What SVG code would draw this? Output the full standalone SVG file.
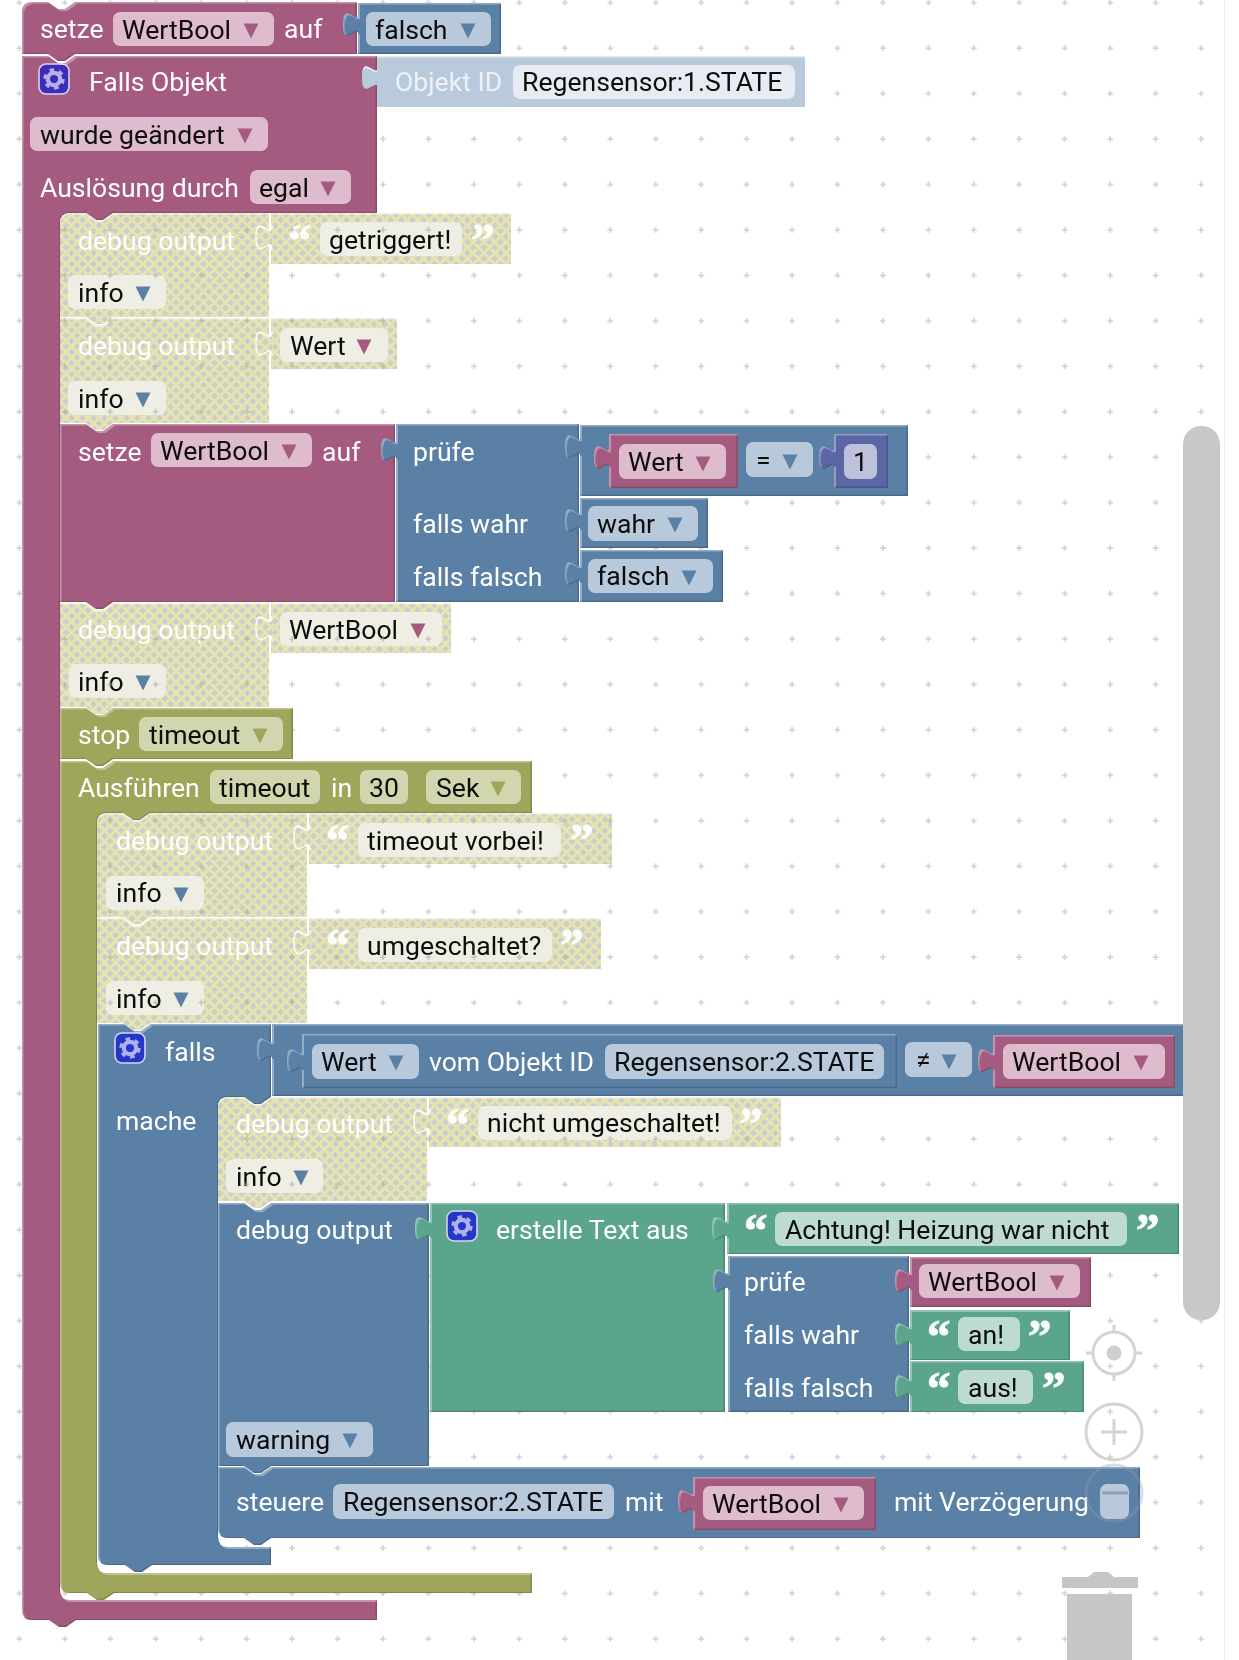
<svg xmlns="http://www.w3.org/2000/svg" width="1239" height="1660" viewBox="0 0 1239 1660">
<style>
text{font-family:Roboto,"Liberation Sans",sans-serif;font-size:26.6px}
.w{fill:#fff}.k{fill:#0d0d0d}.w2{fill:#eef2f6}
text.q{font-family:"Liberation Serif",serif;font-size:47px;font-weight:bold;fill:#fbfdfb;stroke:#fbfdfb;stroke-width:1}
.bv{filter:url(#bevel)}.bd{filter:url(#bevelD)}
.P{fill:#a55b80}.B{fill:#5b80a5}.G{fill:#5ba58c}.O{fill:#9fa55b}.L{fill:#5b67a5}.S{fill:#b8cadc}.D{fill:url(#dis)}
.fP{fill:#dfbccd}.fB{fill:#b8c9dc}.fG{fill:#bddbd1}.fO{fill:#d2d6ae}.fD{fill:#eeeee4}.fL{fill:#bdc1dc}.fS{fill:#e6ecf2}
.tD{fill:url(#dis);stroke:#fff;stroke-opacity:.85;stroke-width:1.4}
</style>
<defs>
<pattern id="grid" patternUnits="userSpaceOnUse" x="15.4" y="-1.35" width="45.45" height="45.45"><path d="M1,4H7M4,1V7" stroke="#c9c9c9" stroke-width="1.3" fill="none"/></pattern>
<pattern id="grid2" patternUnits="userSpaceOnUse" x="15.4" y="-1.35" width="45.45" height="45.45"><path d="M1,4H7M4,1V7" stroke="#a9a9a0" stroke-width="1.3" fill="none"/></pattern>
<pattern id="dis" patternUnits="userSpaceOnUse" width="11" height="11"><rect width="11" height="11" fill="#cdcdcd"/><path d="M0,0L11,11M11,0L0,11" stroke="#e6e5b0" stroke-width="3"/></pattern>
<filter id="bevel" color-interpolation-filters="sRGB" x="-3%" y="-3%" width="106%" height="106%">
<feOffset in="SourceAlpha" dx="1.5" dy="1.5" result="a"/>
<feComposite in="SourceAlpha" in2="a" operator="out" result="tl"/>
<feFlood flood-color="#fff" flood-opacity=".35"/><feComposite in2="tl" operator="in" result="light"/>
<feOffset in="SourceAlpha" dx="-1.5" dy="-1.5" result="b"/>
<feComposite in="SourceAlpha" in2="b" operator="out" result="br"/>
<feFlood flood-color="#000" flood-opacity=".17"/><feComposite in2="br" operator="in" result="dark"/>
<feMerge><feMergeNode in="SourceGraphic"/><feMergeNode in="light"/><feMergeNode in="dark"/></feMerge>
</filter>
<filter id="bevelD" color-interpolation-filters="sRGB" x="-3%" y="-3%" width="106%" height="106%">
<feOffset in="SourceAlpha" dx="0" dy="1.5" result="a"/>
<feComposite in="SourceAlpha" in2="a" operator="out" result="tl"/>
<feFlood flood-color="#fff" flood-opacity=".6"/><feComposite in2="tl" operator="in" result="light"/>
<feMerge><feMergeNode in="SourceGraphic"/><feMergeNode in="light"/></feMerge>
</filter>
<path id="tab" d="M1,0c0,17 -16,-14 -16,12.5s16,-4 16,12.5"/>
<path id="ar" d="M-7.5,-7.5H7.5L0,7.5Z"/>
<g id="gear"><rect x="-15" y="-15" width="30" height="30" rx="7" stroke="#d9d3f2" stroke-width="1.6"/><circle r="6.2" fill="none" stroke="#b4b0ee" stroke-width="4.2"/><circle r="9.2" fill="none" stroke="#b4b0ee" stroke-width="3" stroke-dasharray="4.6 5.03"/></g>
<clipPath id="disClip">
<rect x="60" y="215" width="209" height="208"/><rect x="271" y="213" width="240" height="51"/><rect x="271" y="318" width="126" height="51"/>
<rect x="60" y="603" width="209" height="104"/><rect x="271" y="603" width="180" height="50"/>
<rect x="97" y="815" width="210" height="208"/><rect x="309" y="813" width="303" height="51"/><rect x="309" y="918" width="292" height="51"/>
<rect x="218" y="1099" width="209" height="102"/><rect x="429" y="1097" width="352" height="50"/>
</clipPath>
</defs>
<rect width="1239" height="1660" fill="#fff"/>
<rect width="1239" height="1660" fill="url(#grid)"/>
<path d="M1224.5,0V1660" stroke="#ececec" stroke-width="1"/>

<g id="trash" fill="#c6c6c6"><path d="M1062,1577h26l6,-5h14l6,5h24v11h-76Z"/><rect x="1067" y="1594" width="65" height="66"/></g>

<g id="setze-top" class="bv"><path class="P" d="M22,12Q22,2 32,2H48l10,7h7l10,-7H357V54H75l-10,7h-7l-10,-7H22Z"/>
<text class="w" x="40" y="38">setze</text><rect class="fP" x="113" y="12" width="161" height="34" rx="7"/><text class="k" x="122" y="38.500">WertBool</text><use class="P" href="#ar" x="251" y="31"/><text class="w" x="284" y="38">auf</text></g>
<g id="falsch-top" class="bv"><use class="B" href="#tab" x="358" y="12"/><rect class="B" x="358" y="3" width="143" height="51"/>
<rect class="fB" x="366" y="12" width="125" height="34" rx="7"/><text class="k" x="375" y="38.500">falsch</text><use class="B" href="#ar" x="468" y="31"/></g>

<g id="falls-objekt" class="bv"><path class="P" d="M22,56h26l10,7h7l10,-7H377V213H113l-10,7h-7l-10,-7H70Q60,213 60,223V1590Q60,1600 70,1600H377V1620H76l-10,7h-7l-10,-7H32Q22,1620 22,1610Z"/>
<use href="#gear" x="54" y="79" fill="#3e2cb8"/><text class="w" x="89" y="91">Falls Objekt</text>
<rect class="fP" x="30" y="117" width="238" height="34" rx="7"/><text class="k" x="40" y="144">wurde geändert</text><use class="P" href="#ar" x="245" y="136"/>
<text class="w" x="40" y="197">Auslösung durch</text><rect class="fP" x="250" y="170" width="101" height="34" rx="7"/><text class="k" x="259" y="197">egal</text><use class="P" href="#ar" x="328" y="189"/></g>
<g id="objekt-id" class="bd"><use class="S" href="#tab" x="377" y="65"/><rect class="S" x="377" y="56" width="428" height="51"/><text class="w2" x="395" y="91">Objekt ID</text>
<rect class="fS" x="513" y="65" width="282" height="34" rx="7"/><text class="k" x="522" y="91">Regensensor:1.STATE</text></g>

<g id="debug1" class="bd"><path class="D" d="M60,223Q60,213 70,213H86l10,7h7l10,-7H269V317H113l-10,7h-7l-10,-7H60Z"/>
<text class="w" x="78" y="250">debug output</text><rect class="fD" x="68" y="275" width="98" height="34" rx="7"/><text class="k" x="78" y="302">info</text><use class="B" href="#ar" x="143" y="294"/></g>
<g id="debug1-text" class="bd"><rect class="D" x="271" y="213" width="240" height="51"/><use class="tD" href="#tab" x="271" y="225"/><text class="q" x="288" y="256">“</text>
<rect class="fD" x="320" y="222" width="142" height="34" rx="7"/><text class="k" x="329" y="249">getriggert!</text><text class="q" x="471" y="256">”</text></g>

<g id="debug2" class="bd"><path class="D" d="M60,318h26l10,7h7l10,-7H269V423H113l-10,7h-7l-10,-7H60Z"/>
<text class="w" x="78" y="355">debug output</text><rect class="fD" x="68" y="381" width="98" height="34" rx="7"/><text class="k" x="78" y="408">info</text><use class="B" href="#ar" x="143" y="400"/></g>
<g id="debug2-var" class="bd"><rect class="D" x="271" y="318" width="126" height="51"/><use class="tD" href="#tab" x="271" y="331"/><rect class="fD" x="280" y="328" width="108" height="34" rx="7"/><text class="k" x="290" y="355">Wert</text><use class="P" href="#ar" x="364" y="347"/></g>

<g id="setze2" class="bv"><path class="P" d="M60,424h26l10,7h7l10,-7H395V602H113l-10,7h-7l-10,-7H60Z"/>
<text class="w" x="78" y="461">setze</text><rect class="fP" x="151" y="433" width="161" height="34" rx="7"/><text class="k" x="160" y="460">WertBool</text><use class="P" href="#ar" x="289" y="452"/><text class="w" x="322" y="461">auf</text></g>
<g id="pruefe1" class="bv"><use class="B" href="#tab" x="396" y="437"/><rect class="B" x="396" y="424" width="183" height="178"/>
<text class="w" x="413" y="461">prüfe</text><text class="w" x="413" y="533">falls wahr</text><text class="w" x="413" y="586">falls falsch</text></g>
<g id="compare" class="bv"><use class="B" href="#tab" x="580" y="434"/><rect class="B" x="580" y="425" width="328" height="71"/>
<rect class="fB" x="746" y="442" width="67" height="35" rx="7"/><text class="k" x="756" y="469">=</text><use class="B" href="#ar" x="790" y="462"/></g>
<g id="wert1" class="bv"><use class="P" href="#tab" x="609" y="445"/><rect class="P" x="609" y="434" width="129" height="54"/><rect class="fP" x="619" y="444" width="107" height="35" rx="7"/><text class="k" x="628" y="471">Wert</text><use class="P" href="#ar" x="703" y="464"/></g>
<g id="num1" class="bv"><use class="L" href="#tab" x="834" y="445"/><rect class="L" x="834" y="434" width="54" height="54"/><rect class="fL" x="844" y="444" width="33" height="35" rx="7"/><text class="k" x="853" y="471">1</text></g>
<g id="wahr1" class="bv"><use class="B" href="#tab" x="580" y="508"/><rect class="B" x="580" y="498" width="128" height="50"/><rect class="fB" x="588" y="506" width="110" height="35" rx="7"/><text class="k" x="597" y="533">wahr</text><use class="B" href="#ar" x="675" y="525"/></g>
<g id="falsch1" class="bv"><use class="B" href="#tab" x="580" y="561"/><rect class="B" x="580" y="550" width="143" height="52"/><rect class="fB" x="588" y="559" width="125" height="34" rx="7"/><text class="k" x="597" y="585">falsch</text><use class="B" href="#ar" x="689" y="578"/></g>

<g id="debug3" class="bd"><path class="D" d="M60,603h26l10,7h7l10,-7H269V707H113l-10,7h-7l-10,-7H60Z"/>
<text class="w" x="78" y="639">debug output</text><rect class="fD" x="69" y="664" width="97" height="34" rx="7"/><text class="k" x="78" y="691">info</text><use class="B" href="#ar" x="143" y="683"/></g>
<g id="debug3-var" class="bd"><rect class="D" x="271" y="603" width="180" height="50"/><use class="tD" href="#tab" x="271" y="616"/><rect class="fD" x="280" y="612" width="162" height="34" rx="7"/><text class="k" x="289" y="639">WertBool</text><use class="P" href="#ar" x="418" y="631"/></g>

<g id="stop" class="bv"><path class="O" d="M60,708h26l10,7h7l10,-7H293V759H113l-10,7h-7l-10,-7H60Z"/>
<text class="w" x="78" y="744">stop</text><rect class="fO" x="139" y="717" width="144" height="34" rx="7"/><text class="k" x="149" y="744">timeout</text><use class="O" href="#ar" x="260" y="736"/></g>

<g id="ausfuehren" class="bv"><path class="O" d="M60,761h26l10,7h7l10,-7H532V813H150l-10,7h-7l-10,-7H107Q97,813 97,823V1563Q97,1573 107,1573H532V1593H114l-10,7h-7l-10,-7H70Q60,1593 60,1583Z"/>
<text class="w" x="78" y="797">Ausführen</text><rect class="fO" x="210" y="770" width="110" height="34" rx="7"/><text class="k" x="219" y="797">timeout</text><text class="w" x="331" y="797">in</text>
<rect class="fO" x="360" y="770" width="48" height="34" rx="7"/><text class="k" x="369" y="797">30</text><rect class="fO" x="426" y="770" width="95" height="34" rx="7"/><text class="k" x="436" y="797">Sek</text><use class="O" href="#ar" x="498" y="789"/></g>

<g id="debug4" class="bd"><path class="D" d="M97,823Q97,813 107,813H123l10,7h7l10,-7H307V917H150l-10,7h-7l-10,-7H97Z"/>
<text class="w" x="116" y="850">debug output</text><rect class="fD" x="106" y="876" width="98" height="34" rx="7"/><text class="k" x="116" y="902">info</text><use class="B" href="#ar" x="181" y="895"/></g>
<g id="debug4-text" class="bd"><rect class="D" x="309" y="813" width="303" height="51"/><use class="tD" href="#tab" x="309" y="825"/><text class="q" x="326" y="856">“</text>
<rect class="fD" x="358" y="823" width="203" height="34" rx="7"/><text class="k" x="367" y="850">timeout vorbei!</text><text class="q" x="570" y="856">”</text></g>

<g id="debug5" class="bd"><path class="D" d="M97,918h26l10,7h7l10,-7H307V1023H150l-10,7h-7l-10,-7H97Z"/>
<text class="w" x="116" y="955">debug output</text><rect class="fD" x="106" y="981" width="98" height="34" rx="7"/><text class="k" x="116" y="1008">info</text><use class="B" href="#ar" x="181" y="1000"/></g>
<g id="debug5-text" class="bd"><rect class="D" x="309" y="918" width="292" height="51"/><use class="tD" href="#tab" x="309" y="930"/><text class="q" x="326" y="961">“</text>
<rect class="fD" x="358" y="928" width="194" height="34" rx="7"/><text class="k" x="367" y="955">umgeschaltet?</text><text class="q" x="560" y="961">”</text></g>

<g id="falls" class="bv"><path class="B" d="M98,1024h26l10,7h7l10,-7H271V1097L271,1097l-10,7h-7l-10,-7H228Q218,1097 218,1107V1537Q218,1547 228,1547H271V1565H152l-10,7h-7l-10,-7H108Q98,1565 98,1555Z"/>
<use href="#gear" x="130" y="1048" fill="#2438c8"/><text class="w" x="165" y="1061">falls</text><text class="w" x="116" y="1130">mache</text></g>
<g id="condition" class="bv"><use class="B" href="#tab" x="272" y="1037"/><rect class="B" x="272" y="1024" width="920" height="72"/>
<rect class="fB" x="905" y="1042" width="67" height="35" rx="7"/><text class="k" x="916" y="1069">≠</text><use class="B" href="#ar" x="949" y="1062"/></g>
<g id="wert-vom" class="bv"><use class="B" href="#tab" x="302" y="1048"/><rect class="B" x="302" y="1034" width="595" height="54"/>
<rect class="fB" x="312" y="1044" width="107" height="35" rx="7"/><text class="k" x="321" y="1071">Wert</text><use class="B" href="#ar" x="396" y="1063"/><text class="w" x="429" y="1071">vom Objekt ID</text>
<rect class="fB" x="605" y="1044" width="279" height="35" rx="7"/><text class="k" x="614" y="1071">Regensensor:2.STATE</text></g>
<g id="wertbool-cond" class="bv"><use class="P" href="#tab" x="993" y="1048"/><rect class="P" x="993" y="1035" width="182" height="53"/><rect class="fP" x="1003" y="1044" width="162" height="35" rx="7"/><text class="k" x="1012" y="1071">WertBool</text><use class="P" href="#ar" x="1141" y="1063"/></g>

<g id="debug6" class="bd"><path class="D" d="M218,1107Q218,1097 228,1097H244l10,7h7l10,-7H427V1201H271l-10,7h-7l-10,-7H218Z"/>
<text class="w" x="236" y="1133">debug output</text><rect class="fD" x="226" y="1159" width="97" height="34" rx="7"/><text class="k" x="236" y="1186">info</text><use class="B" href="#ar" x="301" y="1178"/></g>
<g id="debug6-text" class="bd"><rect class="D" x="429" y="1097" width="352" height="50"/><use class="tD" href="#tab" x="429" y="1109"/><text class="q" x="446" y="1140">“</text>
<rect class="fD" x="478" y="1106" width="254" height="34" rx="7"/><text class="k" x="487" y="1132">nicht umgeschaltet!</text><text class="q" x="739" y="1140">”</text></g>

<g id="debug7" class="bv"><path class="B" d="M218,1203h26l10,7h7l10,-7H429V1466H271l-10,7h-7l-10,-7H218Z"/>
<text class="w" x="236" y="1239">debug output</text><rect class="fB" x="226" y="1422" width="147" height="35" rx="7"/><text class="k" x="236" y="1449">warning</text><use class="B" href="#ar" x="350" y="1441"/></g>
<g id="text-join" class="bv"><use class="G" href="#tab" x="430" y="1216"/><rect class="G" x="430" y="1203" width="295" height="209"/><use href="#gear" x="462" y="1226" fill="#2438c8"/><text class="w" x="496" y="1239">erstelle Text aus</text></g>
<g id="achtung" class="bv"><use class="G" href="#tab" x="727" y="1216"/><rect class="G" x="727" y="1203" width="452" height="51"/><text class="q" x="744" y="1246">“</text>
<rect class="fG" x="775" y="1212" width="352" height="34" rx="7"/><text class="k" x="785" y="1239">Achtung! Heizung war nicht</text><text class="q" x="1136" y="1246">”</text></g>
<g id="pruefe2" class="bv"><use class="B" href="#tab" x="728" y="1268"/><rect class="B" x="728" y="1256" width="181" height="156"/>
<text class="w" x="744" y="1291">prüfe</text><text class="w" x="744" y="1344">falls wahr</text><text class="w" x="744" y="1397">falls falsch</text></g>
<g id="wertbool2" class="bv"><use class="P" href="#tab" x="910" y="1268"/><rect class="P" x="910" y="1257" width="181" height="50"/><rect class="fP" x="919" y="1264" width="161" height="34" rx="7"/><text class="k" x="928" y="1291">WertBool</text><use class="P" href="#ar" x="1057" y="1283"/></g>
<g id="an" class="bv"><use class="G" href="#tab" x="910" y="1322"/><rect class="G" x="910" y="1310" width="160" height="50"/><text class="q" x="927" y="1352">“</text><rect class="fG" x="958" y="1317" width="62" height="34" rx="7"/><text class="k" x="968" y="1344">an!</text><text class="q" x="1028" y="1352">”</text></g>
<g id="aus" class="bv"><use class="G" href="#tab" x="910" y="1374"/><rect class="G" x="910" y="1361" width="174" height="51"/><text class="q" x="927" y="1404">“</text><rect class="fG" x="958" y="1370" width="75" height="34" rx="7"/><text class="k" x="968" y="1397">aus!</text><text class="q" x="1042" y="1404">”</text></g>

<g id="steuere" class="bv"><path class="B" d="M218,1467h26l10,7h7l10,-7H1140V1538H271l-10,7h-7l-10,-7H228Q218,1538 218,1528Z"/>
<text class="w" x="236" y="1511">steuere</text><rect class="fB" x="333" y="1484" width="281" height="35" rx="7"/><text class="k" x="343" y="1511">Regensensor:2.STATE</text><text class="w" x="625" y="1511">mit</text>
<text class="w" x="894" y="1511">mit Verzögerung</text><rect class="fB" x="1100" y="1484" width="29" height="35" rx="7"/></g>
<g id="wertbool3" class="bv"><use class="P" href="#tab" x="693" y="1489"/><rect class="P" x="693" y="1477" width="183" height="53"/><rect class="fP" x="703" y="1486" width="161" height="34" rx="7"/><text class="k" x="712" y="1513">WertBool</text><use class="P" href="#ar" x="841" y="1505"/></g>

<rect width="1239" height="1660" fill="url(#grid2)" clip-path="url(#disClip)" opacity=".7"/>

<g id="scrollbar"><rect x="1183" y="426" width="37" height="894" rx="18" fill="#c8c8c8"/></g>
<g id="zoom-controls" fill="none" stroke="#d4d4d4" stroke-width="3">
<g id="center"><circle cx="1114" cy="1353" r="21"/><circle cx="1114" cy="1353" r="7.500" fill="#cfcfcf" stroke="none"/><path d="M1114,1325v7M1114,1374v7M1086,1353h7M1135,1353h7"/></g>
<g id="zoom-in"><circle cx="1114" cy="1432" r="28"/><path d="M1101,1432h26M1114,1419v26"/></g>
<g id="zoom-out"><circle cx="1114" cy="1493" r="28" stroke="#8f9fb4" stroke-opacity=".35"/><path d="M1102,1493h26" stroke="#8f9fb4"/></g>
</g>
</svg>
